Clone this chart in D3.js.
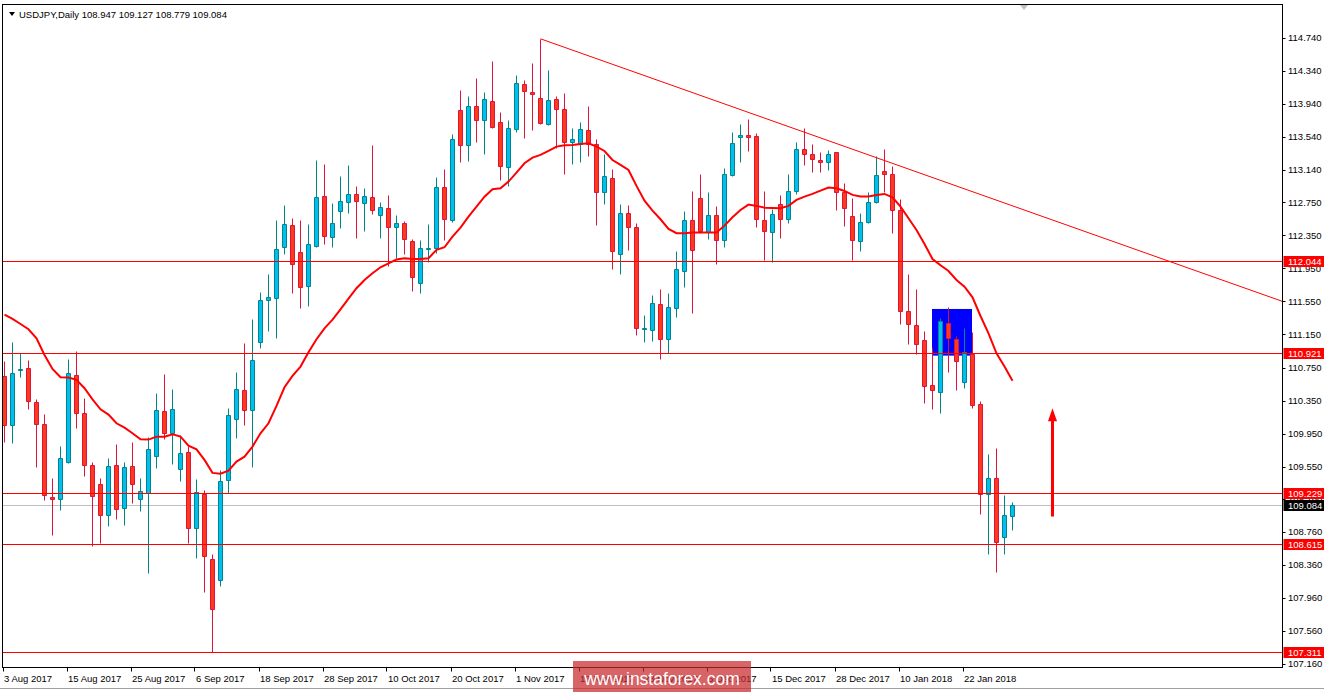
<!DOCTYPE html>
<html><head><meta charset="utf-8">
<script src="https://cdn.jsdelivr.net/npm/d3@7"></script>
<style>
body{margin:0;background:#fff;}
svg{display:block;}
text{font-family:"Liberation Sans",Arial,sans-serif;}
</style>
</head><body>
<svg id="chart" width="1324" height="692"></svg>
<script>
// ---------- data ----------
const symbolName = "USDJPY,Daily";
const lastQuote = ["108.947", "109.127", "108.779", "109.084"];

const opens = [110.648,110.051,110.717,110.741,110.329,110.063,109.179,109.155,109.611,110.656,
110.196,109.566,109.34,108.961,109.57,109.046,109.558,109.163,109.227,109.675,
110.22,109.962,109.518,109.724,108.804,109.223,108.428,108.174,109.385,110.123,
110.474,110.232,111.055,111.564,111.588,112.205,112.472,112.145,111.733,112.226,
112.823,112.335,112.641,112.75,112.847,112.747,112.811,112.593,112.678,112.448,
112.50,112.279,111.77,112.19,112.194,112.936,112.533,113.869,113.441,113.917,
113.743,113.978,113.723,113.174,113.635,114.179,114.082,114.01,113.695,113.998,
113.877,113.477,113.453,113.623,113.453,112.872,113.045,112.121,112.622,112.448,
111.213,111.205,111.516,111.092,111.476,111.916,112.533,112.80,112.388,112.598,
112.291,113.082,113.538,113.566,113.554,112.533,112.388,112.727,112.545,112.884,
113.393,113.332,113.259,113.235,113.356,112.872,112.582,112.279,112.509,112.751,
113.13,113.09,112.654,111.431,111.261,111.08,110.535,110.45,111.285,111.092,
110.571,110.918,110.305,109.219,109.409,108.695,108.947];
const highs = [110.83,111.06,110.922,110.842,110.37,110.188,109.409,109.80,110.85,110.951,
110.386,109.603,109.417,109.651,109.825,109.603,109.845,109.409,109.905,110.442,
110.672,110.49,109.934,109.805,109.401,109.268,108.493,109.51,110.26,110.70,
111.051,111.338,111.661,111.883,112.536,112.718,112.556,112.536,112.488,113.263,
113.214,112.742,113.069,113.202,112.948,112.924,113.445,112.751,112.839,112.597,
112.525,112.307,112.295,112.488,113.061,113.154,113.578,114.111,114.038,114.26,
114.091,114.462,113.848,113.747,114.292,114.232,114.434,114.73,114.353,114.038,
114.074,113.647,113.723,113.917,113.513,113.332,113.154,112.731,112.718,112.50,
111.383,111.629,111.698,111.649,112.162,112.646,112.888,113.094,112.876,112.707,
113.163,113.598,113.70,113.756,113.586,112.888,112.666,112.836,113.094,113.482,
113.647,113.453,113.364,113.385,113.364,112.981,112.80,112.618,112.872,113.312,
113.397,113.191,112.787,111.879,111.701,111.193,110.991,111.354,111.483,111.132,
111.225,111.177,110.345,109.704,109.772,109.207,109.127];
const lows = [109.853,109.841,110.64,110.244,109.55,109.147,108.723,109.026,109.599,110.022,
109.441,108.594,108.622,108.832,108.917,108.848,109.114,109.018,108.267,109.538,
109.881,109.587,109.381,108.63,108.449,108.037,107.303,108.11,109.232,109.901,
110.055,109.55,110.99,111.197,111.104,112.129,111.657,111.475,111.499,112.214,
112.25,112.214,112.444,112.625,112.322,112.408,112.605,112.323,111.984,112.073,
112.129,111.681,111.657,112.032,112.133,112.295,112.517,113.243,113.255,113.485,
113.34,113.647,113.025,112.953,113.606,113.534,113.626,113.695,113.683,113.404,
113.098,113.219,113.243,113.316,112.48,112.735,111.948,111.887,112.174,111.14,
111.064,111.068,110.85,110.931,111.367,111.73,111.407,112.376,112.303,112.0,
112.214,113.07,113.243,113.376,112.456,112.053,112.033,112.315,112.505,112.848,
113.207,113.122,113.122,113.142,112.658,112.468,112.053,112.162,112.497,112.739,
112.872,112.376,111.273,111.039,110.91,110.325,110.244,110.196,110.692,110.482,
110.499,110.256,108.973,108.497,108.279,108.497,108.779];
const closes = [110.051,110.68,110.733,110.341,110.063,109.207,109.155,109.651,110.68,110.196,
109.57,109.191,108.961,109.558,109.034,109.542,109.336,109.252,109.76,110.232,
109.962,110.244,109.712,108.804,109.24,108.465,107.823,109.373,110.172,110.487,
110.232,110.838,111.564,111.60,112.185,112.484,111.998,111.721,112.242,112.811,
112.339,112.496,112.762,112.847,112.766,112.827,112.654,112.69,112.456,112.50,
112.303,111.843,112.194,112.198,112.936,112.545,113.517,113.441,113.917,113.743,
113.998,113.667,113.187,113.647,114.191,114.094,114.058,113.707,113.986,113.877,
113.477,113.513,113.635,113.453,112.88,113.07,112.158,112.622,112.448,111.225,
111.225,111.528,111.10,111.48,111.94,112.533,112.178,112.408,112.598,112.291,
113.09,113.465,113.566,113.546,112.545,112.408,112.606,112.545,112.884,113.393,
113.332,113.28,113.235,113.336,112.872,112.678,112.291,112.509,112.751,113.078,
113.09,112.658,111.431,111.273,111.031,110.523,110.474,111.314,111.104,110.825,
110.934,110.293,109.219,109.409,108.634,108.961,109.084];

// moving average (one value per bar)
const maValues = [111.39,111.338,111.277,111.213,111.104,110.902,110.733,110.632,110.628,110.60,
110.499,110.365,110.244,110.18,110.075,110.022,109.954,109.881,109.877,109.913,
109.913,109.942,109.913,109.804,109.76,109.631,109.474,109.465,109.502,109.611,
109.671,109.792,109.954,110.075,110.285,110.511,110.648,110.761,110.934,111.092,
111.225,111.33,111.455,111.585,111.71,111.81,111.891,111.964,112.012,112.057,
112.073,112.065,112.065,112.073,112.174,112.206,112.335,112.444,112.577,112.698,
112.819,112.908,112.92,113.001,113.11,113.223,113.292,113.324,113.372,113.425,
113.441,113.445,113.457,113.465,113.425,113.372,113.263,113.203,113.142,112.949,
112.771,112.65,112.545,112.428,112.376,112.376,112.384,112.384,112.384,112.384,
112.468,112.569,112.658,112.723,112.707,112.686,112.682,112.678,112.707,112.779,
112.82,112.852,112.892,112.929,112.92,112.888,112.84,112.82,112.82,112.84,
112.852,112.811,112.698,112.557,112.415,112.246,112.064,111.988,111.919,111.81,
111.729,111.6,111.374,111.164,110.922,110.761,110.591];

const priceTicks = [114.74,114.34,113.94,113.54,113.14,112.75,112.35,111.95,111.55,111.15,
110.75,110.35,109.95,109.55,109.16,108.76,108.36,107.96,107.56,107.16];
const dateTickIndex = [0,8,16,24,32,40,48,56,64,72,80,88,96,104,112,120];
const dateTickLabels = ["3 Aug 2017","15 Aug 2017","25 Aug 2017","6 Sep 2017","18 Sep 2017",
"28 Sep 2017","10 Oct 2017","20 Oct 2017","1 Nov 2017","13 Nov 2017","23 Nov 2017",
"5 Dec 2017","15 Dec 2017","28 Dec 2017","10 Jan 2018","22 Jan 2018"];

const levelPrices = [112.044, 110.921, 109.229, 108.615, 107.311];
const bidPrice = 109.084;
const trendIndex = [67, 110];
const trendPrice = [114.73, 113.256];
const boxIndex = [116, 121];
const boxPrice = [111.459, 110.894];
const arrowIndex = 131;
const arrowPrice = [108.945, 110.257];
const watermark = "www.instaforex.com";

// ---------- layout ----------
const W = 1324, H = 692;
const frame = {l: 2.5, t: 4.5, r: 1282.5, b: 667.5};
const svg = d3.select("#chart");
const x = d3.scaleLinear().domain([0, 160]).range([4.5, 1284.5]);
const y = d3.scaleLinear().domain([107.16, 114.74]).range([664, 38]);
const cy = v => Math.round(y(v)) + 0.5;

svg.append("rect").attr("width", W).attr("height", H).attr("fill", "#fff");

svg.append("defs").append("clipPath").attr("id", "plot")
  .append("rect").attr("x", frame.l).attr("y", frame.t)
  .attr("width", frame.r - frame.l).attr("height", frame.b - frame.t);

const plot = svg.append("g").attr("clip-path", "url(#plot)");

// background rectangle object
plot.append("rect")
  .attr("x", x(boxIndex[0]) - 0.5).attr("y", y(boxPrice[0]))
  .attr("width", x(boxIndex[1]) - x(boxIndex[0]))
  .attr("height", y(boxPrice[1]) - y(boxPrice[0]))
  .attr("fill", "#0000FF");

// bid line
plot.append("line").attr("x1", frame.l).attr("x2", frame.r)
  .attr("y1", cy(bidPrice)).attr("y2", cy(bidPrice))
  .attr("stroke", "#C0C0C0").attr("stroke-width", 1);

// candles
const idx = d3.range(closes.length);
const isBull = i => closes[i] >= opens[i];
const candles = plot.append("g").selectAll("g").data(idx).join("g");
candles.append("line")
  .attr("x1", i => x(i)).attr("x2", i => x(i))
  .attr("y1", i => cy(highs[i])).attr("y2", i => cy(lows[i]))
  .attr("stroke", i => isBull(i) ? "#00868B" : "#DC143C").attr("stroke-width", 1);
candles.append("path")
  .attr("d", i => {
    const t = cy(Math.max(opens[i], closes[i]));
    const b = cy(Math.min(opens[i], closes[i]));
    const l = x(i) - 2, r = x(i) + 2;
    return `M${l},${t}H${r}V${b}H${l}Z`;
  })
  .attr("fill", i => isBull(i) ? "#00BFF0" : "#FF3A1C")
  .attr("stroke", i => isBull(i) ? "#00868B" : "#DC143C").attr("stroke-width", 1);

// moving average
plot.append("path").datum(idx)
  .attr("d", d3.line().x(i => x(i)).y(i => y(maValues[i])))
  .attr("fill", "none").attr("stroke", "#FF0000").attr("stroke-width", 2);

// horizontal levels
plot.selectAll("line.level").data(levelPrices).join("line").attr("class", "level")
  .attr("x1", frame.l).attr("x2", frame.r)
  .attr("y1", d => cy(d)).attr("y2", d => cy(d))
  .attr("stroke", "#FF0000").attr("stroke-width", 1);

// trend line (ray to the right)
const slope = (trendPrice[1] - trendPrice[0]) / (trendIndex[1] - trendIndex[0]);
const endIdx = x.invert(frame.r);
plot.append("line")
  .attr("x1", x(trendIndex[0])).attr("y1", y(trendPrice[0]))
  .attr("x2", x(endIdx)).attr("y2", y(trendPrice[0] + slope * (endIdx - trendIndex[0])))
  .attr("stroke", "#FF0000").attr("stroke-width", 1);

// arrow
const ax = x(arrowIndex);
const tipY = y(arrowPrice[1]), baseY = y(arrowPrice[0]);
plot.append("line").attr("x1", ax).attr("x2", ax).attr("y1", baseY).attr("y2", tipY + 12)
  .attr("stroke", "#FF0000").attr("stroke-width", 3);
plot.append("path")
  .attr("d", `M${ax},${tipY}L${ax + 4.5},${tipY + 13}L${ax - 4.5},${tipY + 13}Z`)
  .attr("fill", "#FF0000");

// chart shift marker
svg.append("path").attr("d", "M1020,5L1028,5L1024,10Z").attr("fill", "#C0C0C0");

// frame
svg.append("rect").attr("x", frame.l).attr("y", frame.t)
  .attr("width", frame.r - frame.l).attr("height", frame.b - frame.t)
  .attr("fill", "none").attr("stroke", "#000").attr("stroke-width", 1);

// price axis
const pa = svg.append("g");
pa.selectAll("line").data(priceTicks).join("line")
  .attr("x1", frame.r).attr("x2", frame.r + 3)
  .attr("y1", d => cy(d)).attr("y2", d => cy(d)).attr("stroke", "#000");
pa.selectAll("text").data(priceTicks).join("text")
  .attr("x", 1288).attr("y", d => y(d)).attr("dy", "0.35em")
  .attr("font-size", "9.5px").attr("fill", "#000")
  .text(d => d3.format(".3f")(d));

// level labels
const lab = svg.append("g");
const lg = lab.selectAll("g").data(levelPrices).join("g");
lg.append("rect").attr("x", frame.r + 1).attr("y", d => Math.round(y(d)) - 5)
  .attr("width", W - frame.r - 1).attr("height", 11).attr("fill", "#FF0000");
lg.append("text").attr("x", 1288).attr("y", d => Math.round(y(d)) + 0.5).attr("dy", "0.35em")
  .attr("font-size", "9.5px").attr("fill", "#fff").text(d => d3.format(".3f")(d));
lab.append("rect").attr("x", frame.r + 1).attr("y", Math.round(y(bidPrice)) - 5)
  .attr("width", W - frame.r - 1).attr("height", 11).attr("fill", "#000");
lab.append("text").attr("x", 1288).attr("y", Math.round(y(bidPrice)) + 0.5).attr("dy", "0.35em")
  .attr("font-size", "9.5px").attr("fill", "#fff").text(d3.format(".3f")(bidPrice));

// date axis
const da = svg.append("g");
da.selectAll("line").data(dateTickIndex).join("line")
  .attr("x1", i => Math.round(x(i)) - 1.5).attr("x2", i => Math.round(x(i)) - 1.5)
  .attr("y1", frame.b).attr("y2", frame.b + 4).attr("stroke", "#000");
da.selectAll("text").data(dateTickIndex).join("text")
  .attr("x", i => x(i) - 0.5).attr("y", 681.5)
  .attr("font-size", "9.5px").attr("fill", "#000")
  .text((d, k) => dateTickLabels[k]);

// bottom tab strip
svg.append("line").attr("x1", 0).attr("x2", W).attr("y1", 688.5).attr("y2", 688.5).attr("stroke", "#A0A0A0");

// title
svg.append("path").attr("d", "M9,12L15,12L12,16Z").attr("fill", "#000");
svg.append("text").attr("x", 19).attr("y", 17.5).attr("font-size", "9.5px").attr("fill", "#000")
  .text(symbolName + "  " + lastQuote.join(" "));

// watermark
svg.append("rect").attr("x", 573).attr("y", 661).attr("width", 178).attr("height", 31)
  .attr("fill", "rgb(200,40,45)").attr("fill-opacity", 0.72);
svg.append("text").attr("x", 662).attr("y", 684.5).attr("text-anchor", "middle")
  .attr("font-size", "17.5px").attr("fill", "#fff").text(watermark);
</script>
</body></html>
